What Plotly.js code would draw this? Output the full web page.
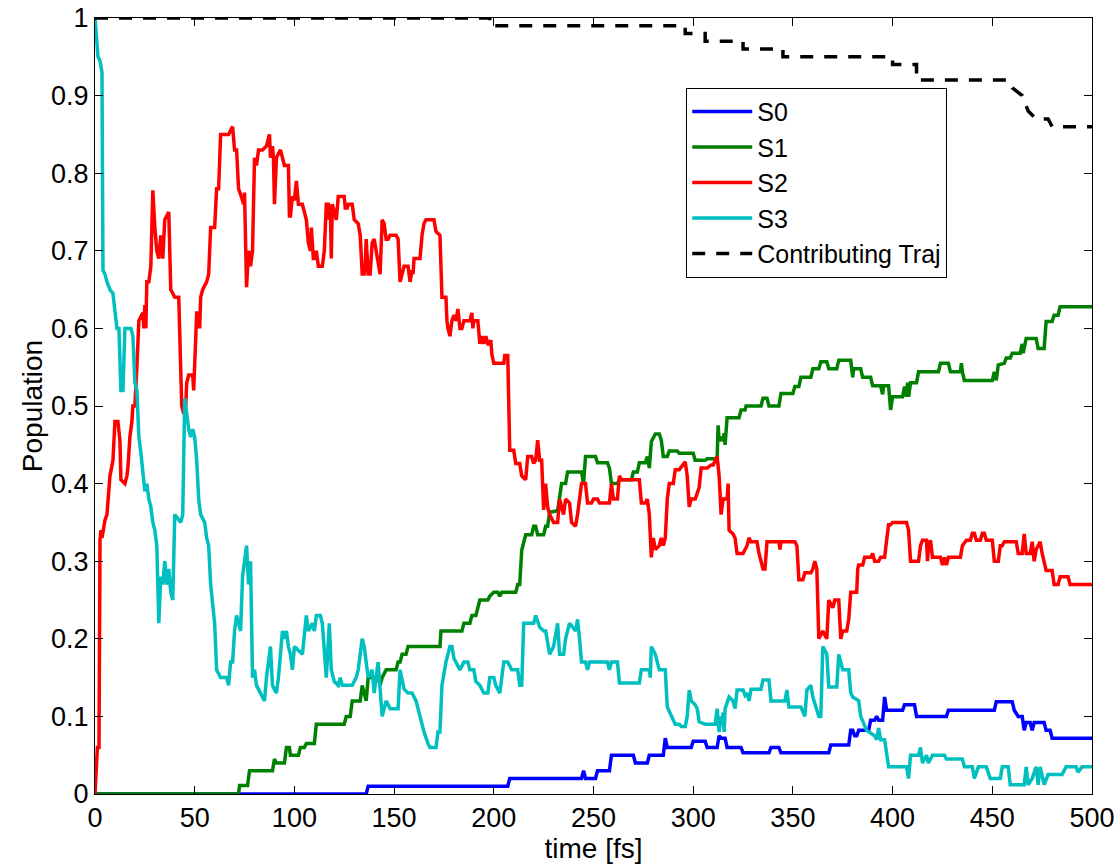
<!DOCTYPE html>
<html>
<head>
<meta charset="utf-8">
<script src="https://cdn.plot.ly/plotly-3.0.1.min.js"></script>
<style>html,body{margin:0;padding:0;background:#fff}#chart{width:1117px;height:864px}</style>
</head>
<body>
<div id="chart"></div>
<script>
// Time samples [fs] and populations
var s0_t = [0,136,137,207,208,244,245,246,251,252,258,259,270,271,277,278,285,286,287,299,300,306,307,312,313,314,316,317,324,325,338,339,343,344,368,369,378,379,380,381,382,383,388,389,391,392,393,395,396,397,405,406,411,412,427,428,451,452,460,461,463,465,466,467,469,470,471,476,477,479,480,500];
var s0_y = [0,0,0.01,0.01,0.02,0.02,0.03,0.02,0.02,0.03,0.03,0.05,0.05,0.04,0.04,0.05,0.05,0.072,0.06,0.06,0.068,0.068,0.06,0.06,0.075,0.072,0.072,0.06,0.06,0.053,0.053,0.06,0.06,0.053,0.053,0.063,0.063,0.082,0.082,0.075,0.075,0.082,0.082,0.095,0.095,0.1,0.095,0.095,0.125,0.108,0.108,0.115,0.115,0.1,0.1,0.108,0.108,0.119,0.119,0.108,0.1,0.1,0.082,0.092,0.092,0.082,0.092,0.092,0.082,0.082,0.072,0.072];

var s1_t = [0,72,72.5,76.5,77.5,89,90,91,95,96,97.5,98,102,103,105,106,110,111,125,126,128,129,133,134,135,136,137,142,143,144,146,151,152,153,154,156,157,173,173.5,184,185,188,189,191,193,197,198,200,202,203,204,211,212,213,214,216,219,220,221,222,225,226,227,228,232,233,234,236,237,244,245,246,251,252,257,258,259,262,263,269,270,272,273,276,277,278,279,281,283,284,285,287,288,292,293,300,301,306,307,312,312.5,313,314,315,315.5,316,317,323,324,326,326.5,334,335,337,338,343,344,350,351,353,354,359,360,363,364,367,368,372,373,379,380,380.5,384,385,389,390,394,395,395.5,398,399,400,405,406,407,407.5,408,409,412,413,423,424,428,429,434,434.5,435,436,450,451,452,453,456,457,459,460,464,465,465.5,466,467,472,473,476,477,480,481,483,484,500];
var s1_y = [0,0,0.011,0.011,0.03,0.03,0.045,0.04,0.04,0.06,0.06,0.05,0.05,0.06,0.06,0.065,0.065,0.09,0.09,0.1,0.1,0.12,0.12,0.14,0.13,0.12,0.15,0.15,0.14,0.15,0.16,0.16,0.17,0.17,0.18,0.18,0.19,0.19,0.21,0.21,0.22,0.22,0.23,0.23,0.25,0.25,0.255,0.26,0.26,0.255,0.26,0.26,0.27,0.27,0.314,0.334,0.334,0.345,0.345,0.334,0.334,0.345,0.345,0.363,0.365,0.38,0.4,0.4,0.415,0.415,0.4,0.435,0.435,0.427,0.427,0.42,0.4,0.4,0.405,0.405,0.415,0.415,0.427,0.427,0.435,0.42,0.454,0.464,0.464,0.456,0.435,0.435,0.442,0.442,0.439,0.439,0.43,0.43,0.432,0.432,0.475,0.455,0.46,0.455,0.465,0.45,0.485,0.485,0.495,0.495,0.5,0.5,0.51,0.51,0.5,0.5,0.516,0.516,0.525,0.525,0.537,0.537,0.548,0.548,0.557,0.557,0.548,0.548,0.559,0.559,0.537,0.548,0.548,0.537,0.537,0.526,0.526,0.515,0.526,0.526,0.495,0.512,0.512,0.525,0.512,0.53,0.512,0.53,0.53,0.544,0.544,0.555,0.555,0.544,0.544,0.555,0.544,0.533,0.533,0.544,0.533,0.553,0.555,0.562,0.562,0.568,0.568,0.58,0.568,0.575,0.587,0.587,0.574,0.574,0.609,0.609,0.617,0.617,0.628,0.628];

var s2_t = [0,1.2,2,2.5,3,3.5,4.5,5,6,7,7.5,9,10,11.5,12.5,13,15,16,16.5,17.5,18.5,19,20,21,22,24,24.5,25,25.5,26,27,28,29,30,31,32,33,34,35,37,38,40,42,43.5,44.5,45.5,46,47,49,49.5,50,51,52,52.5,53,54,56,57,58,60,61,62,63,67,69,70,71,72,74,74.5,75,76,77,78,79,80,81,82,84,86,87.5,88,89,89.5,90,91,93,95,97,97.5,98,99,100,101,102,104,105,106,107,108,108.5,109.5,110.5,111,111.5,112,114,115,116,117,117.5,118,118.5,119,121,122,125,125.5,126.5,127,129,130,132,133,134,135,135.5,136,137,138,139,140,141,143,144,145,146,147,148,151,152,153,154,155,157,158,159,159.5,160,163,164,165,166,170,171,173,174,176,176.5,177,178,179,180,181,182,183,184,185,188,189,189.5,190,192,192.5,193,194,195,196,197,198,198.5,199,200,205,205.5,207,208,210,211,213,214,216,217,219,220,221,222,223,224,225,226,227,228,230,232,233,235,236,238,239,241,242,244,246,247,249,250,252,253,258,259,260,262,263,264,273,274,276,277,278,279,280,281,283,284,285,286,287,288,290,291,293,295,296,297,298,299,301,303,304,307,309,310,312,313,314,315,317,317.5,318,320,321,322,324,325,327,328,329,332,333,335,336,337,343,343.5,344,351,352,353,355,356,359,360,361,362,363,365,366,367,368,370,371,373,374,375,377,378,379,382,382.5,383,385,386,389,390,391,393,394,396,397,398,399,400,407,408,409,413,414,415,417,417.5,418,419,420,424,425,426,427,428,434,435,437,439,440,441,442,444,445,446,447,450,451,453,454,455,456,462,463,465,466,467,469,470,471,472,474,475,477,480,481,483,484,488,489,500];
var s2_y = [0,0.06,0.06,0.327,0.34,0.33,0.345,0.353,0.36,0.4,0.41,0.43,0.48,0.48,0.455,0.405,0.4,0.41,0.42,0.46,0.48,0.5,0.5,0.55,0.61,0.62,0.6,0.63,0.6,0.66,0.66,0.68,0.778,0.73,0.7,0.69,0.72,0.69,0.74,0.75,0.65,0.64,0.64,0.5,0.49,0.5,0.53,0.54,0.54,0.52,0.56,0.62,0.62,0.6,0.64,0.65,0.66,0.67,0.73,0.73,0.78,0.78,0.85,0.85,0.86,0.83,0.83,0.78,0.765,0.76,0.775,0.653,0.7,0.68,0.7,0.82,0.81,0.83,0.83,0.835,0.85,0.82,0.835,0.82,0.76,0.82,0.83,0.81,0.81,0.745,0.745,0.77,0.765,0.79,0.76,0.76,0.75,0.74,0.71,0.7,0.73,0.69,0.69,0.7,0.69,0.68,0.68,0.7,0.76,0.76,0.74,0.76,0.69,0.76,0.74,0.77,0.77,0.755,0.755,0.76,0.76,0.74,0.735,0.72,0.67,0.67,0.68,0.715,0.67,0.67,0.71,0.715,0.7,0.67,0.74,0.735,0.715,0.715,0.72,0.72,0.715,0.66,0.67,0.68,0.68,0.66,0.675,0.67,0.69,0.69,0.72,0.735,0.74,0.74,0.725,0.72,0.64,0.64,0.61,0.6,0.59,0.61,0.617,0.61,0.625,0.6,0.6,0.61,0.61,0.62,0.6,0.61,0.61,0.595,0.58,0.59,0.58,0.59,0.58,0.58,0.585,0.567,0.555,0.555,0.565,0.565,0.443,0.443,0.426,0.426,0.41,0.405,0.435,0.435,0.426,0.43,0.456,0.43,0.43,0.366,0.4,0.37,0.36,0.35,0.35,0.38,0.36,0.38,0.375,0.35,0.345,0.36,0.4,0.4,0.375,0.375,0.38,0.38,0.375,0.375,0.4,0.38,0.38,0.41,0.405,0.405,0.375,0.375,0.38,0.36,0.305,0.33,0.315,0.32,0.33,0.32,0.33,0.38,0.4,0.4,0.418,0.418,0.424,0.428,0.41,0.37,0.38,0.38,0.395,0.42,0.42,0.424,0.424,0.435,0.41,0.36,0.38,0.38,0.4,0.34,0.335,0.33,0.31,0.31,0.31,0.32,0.33,0.325,0.325,0.31,0.29,0.29,0.325,0.325,0.315,0.325,0.325,0.32,0.276,0.276,0.285,0.285,0.29,0.3,0.29,0.2,0.21,0.205,0.2,0.25,0.24,0.25,0.25,0.2,0.21,0.21,0.225,0.26,0.26,0.29,0.295,0.295,0.305,0.305,0.31,0.3,0.3,0.305,0.305,0.327,0.347,0.347,0.35,0.35,0.34,0.3,0.3,0.32,0.327,0.327,0.3,0.32,0.327,0.305,0.305,0.295,0.305,0.295,0.305,0.305,0.32,0.327,0.327,0.336,0.336,0.327,0.327,0.336,0.336,0.327,0.327,0.3,0.3,0.32,0.32,0.325,0.325,0.31,0.31,0.335,0.31,0.31,0.325,0.3,0.315,0.325,0.31,0.288,0.288,0.27,0.27,0.28,0.28,0.27,0.27];

var s3_t = [0,1.5,2.5,3.5,4,5,6,7.5,9,10,11,12,12.5,13,14,14.5,15,18,19,19.5,20,21,22,23,24,25,26,27,28,29,30,31,32,33,34,35,36,37,38,39,40,43,44,45,46,47,48,49,50,51,52,53,55,56,57,58,60,61,63,66,67,68,69,70,71,72,73,74,75,76,77,78,79,80,81,83,85,86,88,89,91,92,94,95,96,97,98,99,100,104,106,107,109,110,111,113,114,116,117.5,118.5,120,122,123,124,129,131,132,134,135,136,137,139,140,142,144,146,148,152,153,155,157,159,161,163,165,167,168,171,172,173,174,176,178,179,180,183,185,187,188,190,191,193,195,197,198,200,201,203,205,207,209,212,213,214,215,220,221,223,225,226,228,230,232,233,235,236,238,241,242,243,244,246,247,248,257,258,259,262,263,273,274,278,278.5,279,281,283,286,287,289,291,293,294,296,297,298,299,301,302,303,306,311,312,313,314,314.5,315,315.5,316,318,320,321,322,325,326,327,328,329,334,335,338,339,346,347,348,354,356,357,359,360,363,364,365,367,368,372,373,375,378,379,380,383,384,387,388,391,392,393,394,396,398,407,408,409,413,414,415,417,418,420,426,427,435,436,440,441,443,447,449,454,455,458,459,466,467,468,470,472,473,474,476,478,485,487,492,493,495,500];
var s3_y = [1,0.95,0.945,0.93,0.675,0.67,0.66,0.65,0.645,0.62,0.6,0.6,0.57,0.52,0.52,0.56,0.6,0.6,0.59,0.56,0.53,0.52,0.46,0.44,0.41,0.39,0.4,0.38,0.37,0.35,0.34,0.32,0.22,0.28,0.27,0.3,0.27,0.29,0.26,0.25,0.36,0.35,0.36,0.51,0.49,0.47,0.46,0.47,0.46,0.43,0.38,0.36,0.35,0.33,0.32,0.27,0.22,0.16,0.15,0.15,0.14,0.17,0.17,0.21,0.23,0.22,0.21,0.28,0.3,0.32,0.27,0.3,0.15,0.16,0.14,0.13,0.12,0.15,0.19,0.14,0.13,0.15,0.21,0.2,0.21,0.19,0.18,0.16,0.19,0.18,0.23,0.21,0.22,0.21,0.23,0.23,0.22,0.15,0.22,0.16,0.145,0.14,0.15,0.14,0.14,0.15,0.16,0.2,0.19,0.17,0.15,0.16,0.13,0.17,0.1,0.12,0.11,0.11,0.16,0.135,0.13,0.13,0.12,0.1,0.08,0.065,0.06,0.06,0.08,0.08,0.14,0.17,0.19,0.19,0.175,0.16,0.17,0.17,0.16,0.16,0.145,0.14,0.13,0.13,0.15,0.15,0.14,0.13,0.17,0.17,0.16,0.16,0.14,0.14,0.22,0.22,0.23,0.215,0.21,0.21,0.18,0.19,0.22,0.18,0.18,0.2,0.22,0.21,0.225,0.2,0.17,0.17,0.16,0.17,0.17,0.16,0.17,0.17,0.143,0.143,0.16,0.16,0.15,0.19,0.18,0.16,0.16,0.112,0.1,0.09,0.09,0.087,0.087,0.1,0.134,0.12,0.115,0.11,0.093,0.09,0.09,0.11,0.08,0.1,0.09,0.105,0.08,0.11,0.125,0.12,0.11,0.134,0.134,0.127,0.13,0.12,0.135,0.135,0.147,0.147,0.12,0.12,0.134,0.112,0.112,0.1,0.134,0.14,0.125,0.1,0.1,0.19,0.18,0.138,0.138,0.18,0.16,0.16,0.13,0.125,0.12,0.1,0.082,0.08,0.075,0.07,0.085,0.07,0.07,0.035,0.035,0.02,0.05,0.05,0.06,0.04,0.05,0.04,0.05,0.05,0.045,0.045,0.035,0.035,0.02,0.035,0.035,0.02,0.02,0.035,0.035,0.012,0.012,0.035,0.012,0.02,0.035,0.012,0.035,0.012,0.025,0.025,0.035,0.035,0.028,0.035,0.035];

var traj_t = [0,198,198,296,296,306,306,325,325,345,345,400,400,412,412,458,460,465,468,472,478,480,500];
var traj_y = [1,1,0.99,0.99,0.98,0.98,0.97,0.97,0.96,0.96,0.95,0.95,0.94,0.94,0.92,0.92,0.91,0.9,0.88,0.87,0.87,0.86,0.86];

var seriesNames = ['S0','S1','S2','S3','Contributing Traj'];
var xTicks = [0,50,100,150,200,250,300,350,400,450,500];
var yTicks = [0,0.1,0.2,0.3,0.4,0.5,0.6,0.7,0.8,0.9,1];

var FONT = 'Liberation Sans, Arial, Helvetica, sans-serif';
function tr(x, y, name, color, dash) {
  return {x: x, y: y, name: name, type: 'scatter', mode: 'lines',
    line: {color: color, width: 3.5, dash: dash || 'solid'}};
}
var data = [
  tr(s0_t, s0_y, seriesNames[0], '#0000FF'),
  tr(s1_t, s1_y, seriesNames[1], '#008000'),
  tr(s2_t, s2_y, seriesNames[2], '#FF0000'),
  tr(s3_t, s3_y, seriesNames[3], '#00BFBF'),
  tr(traj_t, traj_y, seriesNames[4], '#000000', '13px,11px')
];
var axisCommon = {
  showline: true, linecolor: '#000', linewidth: 1, mirror: 'ticks',
  ticks: 'inside', ticklen: 8, tickwidth: 1, tickcolor: '#000',
  showgrid: false, zeroline: false, tickmode: 'array',
  tickfont: {family: FONT, size: 27, color: '#000'}
};
var layout = {
  width: 1117, height: 864,
  margin: {l: 95, r: 25, t: 18, b: 70},
  paper_bgcolor: '#fff', plot_bgcolor: '#fff',
  font: {family: FONT, size: 27, color: '#000'},
  xaxis: Object.assign({}, axisCommon, {
    range: [0, 500], tickvals: xTicks, ticktext: xTicks.map(String),
    title: {text: 'time [fs]', font: {family: FONT, size: 28}, standoff: 0}
  }),
  yaxis: Object.assign({}, axisCommon, {
    range: [0, 1], tickvals: yTicks, ticktext: yTicks.map(String),
    title: {text: 'Population', font: {family: FONT, size: 28}, standoff: 0}
  }),
  showlegend: true,
  legend: {
    x: 0.593, y: 0.91, xanchor: 'left', yanchor: 'top',
    bgcolor: '#fff', bordercolor: '#000', borderwidth: 1,
    font: {family: FONT, size: 25, color: '#000'},
    itemwidth: 60, tracegroupgap: 0
  }
};
Plotly.newPlot('chart', data, layout, {displayModeBar: false, staticPlot: true});
</script>
</body>
</html>
